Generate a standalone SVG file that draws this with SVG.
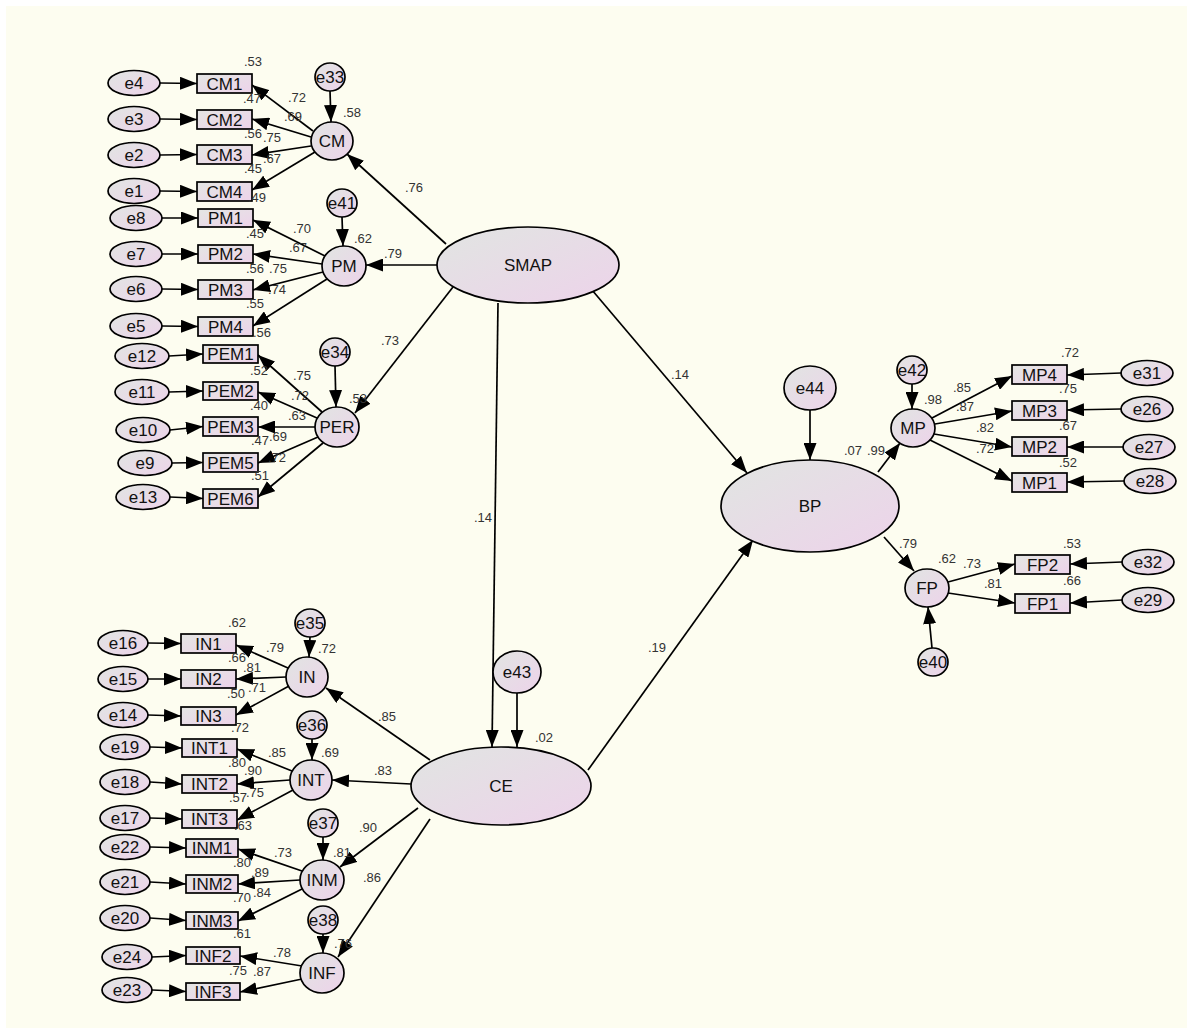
<svg xmlns="http://www.w3.org/2000/svg" width="1193" height="1034" viewBox="0 0 1193 1034">
<defs>
<linearGradient id="g" x1="0" y1="0" x2="1" y2="1">
<stop offset="0" stop-color="#e1e5e2"/>
<stop offset="1" stop-color="#edd3ea"/>
</linearGradient>
<linearGradient id="gr" x1="0" y1="0" x2="1" y2="1">
<stop offset="0" stop-color="#e4e6e3"/>
<stop offset="1" stop-color="#edd3ea"/>
</linearGradient>
<marker id="a" markerUnits="userSpaceOnUse" markerWidth="18" markerHeight="13" refX="17" refY="6.5" orient="auto">
<path d="M0,0 L17,6.5 L0,13 z" fill="#000"/>
</marker>
<style>
.n ellipse{fill:url(#g);stroke:#000;stroke-width:1.7}
.n rect{fill:url(#gr);stroke:#000;stroke-width:1.7}
.n text{font-family:"Liberation Sans",Arial,sans-serif;font-size:17px;text-anchor:middle;fill:#111}
#edges line{stroke:#000;stroke-width:1.7;marker-end:url(#a)}
#coef text{font-family:"Liberation Sans",Arial,sans-serif;font-size:13px;text-anchor:middle;fill:#333}
</style>
</defs>
<rect x="0" y="0" width="1193" height="1034" fill="#ffffff"/>
<rect x="6" y="6" width="1181" height="1022" fill="#fdfdf0"/>

<g id="edges">
<!-- CM block -->
<line x1="160" y1="83" x2="197" y2="83.5"/>
<line x1="160" y1="119" x2="197" y2="119.5"/>
<line x1="160" y1="155" x2="197" y2="154.5"/>
<line x1="160" y1="191" x2="197" y2="191.5"/>
<line x1="330" y1="91" x2="331" y2="122"/>
<line x1="313" y1="131" x2="252" y2="85"/>
<line x1="311" y1="137" x2="252" y2="119"/>
<line x1="311" y1="146" x2="252" y2="155"/>
<line x1="315" y1="152" x2="252" y2="190"/>
<line x1="446" y1="244" x2="347" y2="154"/>
<!-- PM block -->
<line x1="162" y1="218" x2="198" y2="218"/>
<line x1="162" y1="254" x2="198" y2="254"/>
<line x1="162" y1="289" x2="198" y2="289.5"/>
<line x1="162" y1="326" x2="198" y2="326.5"/>
<line x1="342" y1="217" x2="343" y2="246"/>
<line x1="325" y1="256" x2="253" y2="220"/>
<line x1="322" y1="264" x2="253" y2="254"/>
<line x1="323" y1="272" x2="253" y2="290"/>
<line x1="327" y1="279" x2="253" y2="326"/>
<line x1="437" y1="265" x2="366" y2="265"/>
<!-- PER block -->
<line x1="169" y1="356" x2="203" y2="354"/>
<line x1="169" y1="392" x2="203" y2="391"/>
<line x1="170" y1="430" x2="203" y2="426.5"/>
<line x1="172" y1="463" x2="203" y2="462.5"/>
<line x1="170" y1="497" x2="203" y2="498.5"/>
<line x1="335" y1="366" x2="336" y2="407"/>
<line x1="322" y1="412" x2="258" y2="355"/>
<line x1="317" y1="418" x2="258" y2="392"/>
<line x1="315" y1="427" x2="258" y2="427"/>
<line x1="318" y1="437" x2="258" y2="463"/>
<line x1="323" y1="443" x2="258" y2="497"/>
<line x1="453" y1="287" x2="355" y2="413"/>
<!-- SMAP -->
<line x1="498" y1="303" x2="492" y2="747"/>
<line x1="592" y1="290" x2="747" y2="473"/>
<!-- CE -->
<line x1="517" y1="693" x2="517" y2="747"/>
<line x1="430" y1="760" x2="326" y2="688"/>
<line x1="411" y1="784" x2="332" y2="780"/>
<line x1="418" y1="808" x2="340" y2="867"/>
<line x1="430" y1="819" x2="338" y2="957"/>
<line x1="588" y1="770" x2="753" y2="540"/>
<!-- BP -->
<line x1="810" y1="410" x2="810" y2="460"/>
<line x1="878" y1="472" x2="900" y2="443"/>
<line x1="884" y1="537" x2="914" y2="571"/>
<!-- MP -->
<line x1="912" y1="384" x2="912" y2="409"/>
<line x1="932" y1="418" x2="1012" y2="376"/>
<line x1="935" y1="424" x2="1012" y2="411"/>
<line x1="934" y1="434" x2="1012" y2="447"/>
<line x1="930" y1="440" x2="1012" y2="481"/>
<line x1="1121" y1="373" x2="1067" y2="375"/>
<line x1="1121" y1="409" x2="1067" y2="410"/>
<line x1="1123" y1="447" x2="1067" y2="447"/>
<line x1="1124" y1="481" x2="1067" y2="482"/>
<!-- FP -->
<line x1="948" y1="582" x2="1015" y2="564"/>
<line x1="948" y1="593" x2="1015" y2="603"/>
<line x1="1122" y1="562" x2="1070" y2="564"/>
<line x1="1122" y1="600" x2="1070" y2="603"/>
<line x1="932" y1="648" x2="928" y2="607"/>
<!-- IN -->
<line x1="148" y1="643" x2="181" y2="643.5"/>
<line x1="148" y1="679" x2="181" y2="679"/>
<line x1="148" y1="715" x2="181" y2="716"/>
<line x1="310" y1="637" x2="309" y2="657"/>
<line x1="288" y1="668" x2="236" y2="645"/>
<line x1="286" y1="677" x2="236" y2="679"/>
<line x1="289" y1="686" x2="236" y2="715"/>
<!-- INT -->
<line x1="150" y1="747" x2="182" y2="748"/>
<line x1="150" y1="782" x2="182" y2="784"/>
<line x1="150" y1="818" x2="182" y2="819"/>
<line x1="312" y1="739" x2="312" y2="760"/>
<line x1="292" y1="771" x2="237" y2="749"/>
<line x1="290" y1="780" x2="237" y2="784"/>
<line x1="293" y1="790" x2="237" y2="820"/>
<!-- INM -->
<line x1="150" y1="847" x2="186" y2="848"/>
<line x1="150" y1="882" x2="186" y2="884"/>
<line x1="150" y1="918" x2="186" y2="920.5"/>
<line x1="323" y1="837" x2="323" y2="860"/>
<line x1="302" y1="871" x2="238" y2="849"/>
<line x1="300" y1="880" x2="238" y2="884"/>
<line x1="302" y1="889" x2="238" y2="921"/>
<!-- INF -->
<line x1="152" y1="957" x2="186" y2="955.5"/>
<line x1="152" y1="990" x2="186" y2="991.5"/>
<line x1="323" y1="934" x2="323" y2="953"/>
<line x1="302" y1="966" x2="240" y2="956"/>
<line x1="302" y1="979" x2="240" y2="992"/>
</g>

<!-- Latent nodes -->
<g id="SMAP" class="n"><ellipse cx="528" cy="265" rx="91" ry="38"/><text x="528" y="271">SMAP</text></g>
<g id="CE" class="n"><ellipse cx="501" cy="786" rx="90" ry="39"/><text x="501" y="792">CE</text></g>
<g id="BP" class="n"><ellipse cx="810" cy="506" rx="89" ry="46"/><text x="810" y="512">BP</text></g>
<g id="CM" class="n"><ellipse cx="332" cy="141" rx="21" ry="19"/><text x="332" y="147">CM</text></g>
<g id="PM" class="n"><ellipse cx="344" cy="266" rx="22" ry="20"/><text x="344" y="272">PM</text></g>
<g id="PER" class="n"><ellipse cx="337" cy="427" rx="22" ry="20"/><text x="337" y="433">PER</text></g>
<g id="IN" class="n"><ellipse cx="307" cy="677" rx="21" ry="20"/><text x="307" y="683">IN</text></g>
<g id="INT" class="n"><ellipse cx="311" cy="780" rx="21" ry="20"/><text x="311" y="786">INT</text></g>
<g id="INM" class="n"><ellipse cx="322" cy="880" rx="22" ry="20"/><text x="322" y="886">INM</text></g>
<g id="INF" class="n"><ellipse cx="322" cy="973" rx="22" ry="20"/><text x="322" y="979">INF</text></g>
<g id="MP" class="n"><ellipse cx="913" cy="428" rx="22" ry="19"/><text x="913" y="434">MP</text></g>
<g id="FP" class="n"><ellipse cx="927" cy="588" rx="22" ry="19"/><text x="927" y="594">FP</text></g>

<!-- Disturbances -->
<g id="e33" class="n"><ellipse cx="330" cy="77" rx="15" ry="14"/><text x="330" y="83">e33</text></g>
<g id="e41" class="n"><ellipse cx="342" cy="203" rx="15" ry="14"/><text x="342" y="209">e41</text></g>
<g id="e34" class="n"><ellipse cx="335" cy="352" rx="15" ry="14"/><text x="335" y="358">e34</text></g>
<g id="e35" class="n"><ellipse cx="310" cy="623" rx="15" ry="14"/><text x="310" y="629">e35</text></g>
<g id="e36" class="n"><ellipse cx="312" cy="725" rx="15" ry="14"/><text x="312" y="731">e36</text></g>
<g id="e37" class="n"><ellipse cx="323" cy="823" rx="15" ry="14"/><text x="323" y="829">e37</text></g>
<g id="e38" class="n"><ellipse cx="323" cy="920" rx="15" ry="14"/><text x="323" y="926">e38</text></g>
<g id="e42" class="n"><ellipse cx="912" cy="370" rx="15" ry="14"/><text x="912" y="376">e42</text></g>
<g id="e40" class="n"><ellipse cx="933" cy="662" rx="15" ry="14"/><text x="933" y="668">e40</text></g>
<g id="e43" class="n"><ellipse cx="517" cy="672" rx="24" ry="21"/><text x="517" y="678">e43</text></g>
<g id="e44" class="n"><ellipse cx="810" cy="388" rx="26" ry="22"/><text x="810" y="394">e44</text></g>

<!-- CM indicators -->
<g id="e4" class="n"><ellipse cx="134" cy="83" rx="26" ry="12.5"/><text x="134" y="89">e4</text></g>
<g id="e3" class="n"><ellipse cx="134" cy="119" rx="26" ry="12.5"/><text x="134" y="125">e3</text></g>
<g id="e2" class="n"><ellipse cx="134" cy="155" rx="26" ry="12.5"/><text x="134" y="161">e2</text></g>
<g id="e1" class="n"><ellipse cx="134" cy="191" rx="26" ry="12.5"/><text x="134" y="197">e1</text></g>
<g id="CM1" class="n"><rect x="197" y="74" width="55" height="19"/><text x="224.5" y="89.5">CM1</text></g>
<g id="CM2" class="n"><rect x="197" y="110" width="55" height="19"/><text x="224.5" y="125.5">CM2</text></g>
<g id="CM3" class="n"><rect x="197" y="145" width="55" height="19"/><text x="224.5" y="160.5">CM3</text></g>
<g id="CM4" class="n"><rect x="197" y="182" width="55" height="19"/><text x="224.5" y="197.5">CM4</text></g>

<!-- PM indicators -->
<g id="e8" class="n"><ellipse cx="136" cy="218" rx="26" ry="12.5"/><text x="136" y="224">e8</text></g>
<g id="e7" class="n"><ellipse cx="136" cy="254" rx="26" ry="12.5"/><text x="136" y="260">e7</text></g>
<g id="e6" class="n"><ellipse cx="136" cy="289" rx="26" ry="12.5"/><text x="136" y="295">e6</text></g>
<g id="e5" class="n"><ellipse cx="136" cy="326" rx="26" ry="12.5"/><text x="136" y="332">e5</text></g>
<g id="PM1" class="n"><rect x="198" y="209" width="55" height="18"/><text x="225.5" y="224">PM1</text></g>
<g id="PM2" class="n"><rect x="198" y="245" width="55" height="18"/><text x="225.5" y="260">PM2</text></g>
<g id="PM3" class="n"><rect x="198" y="280" width="55" height="19"/><text x="225.5" y="295.5">PM3</text></g>
<g id="PM4" class="n"><rect x="198" y="317" width="55" height="19"/><text x="225.5" y="332.5">PM4</text></g>

<!-- PER indicators -->
<g id="e12" class="n"><ellipse cx="142" cy="356" rx="27" ry="12.5"/><text x="142" y="362">e12</text></g>
<g id="e11" class="n"><ellipse cx="142" cy="392" rx="27" ry="12.5"/><text x="142" y="398">e11</text></g>
<g id="e10" class="n"><ellipse cx="143" cy="430" rx="27" ry="12.5"/><text x="143" y="436">e10</text></g>
<g id="e9" class="n"><ellipse cx="145" cy="463" rx="27" ry="12.5"/><text x="145" y="469">e9</text></g>
<g id="e13" class="n"><ellipse cx="143" cy="497" rx="27" ry="12.5"/><text x="143" y="503">e13</text></g>
<g id="PEM1" class="n"><rect x="203" y="345" width="55" height="18"/><text x="230.5" y="360">PEM1</text></g>
<g id="PEM2" class="n"><rect x="203" y="382" width="55" height="18"/><text x="230.5" y="397">PEM2</text></g>
<g id="PEM3" class="n"><rect x="203" y="417" width="55" height="19"/><text x="230.5" y="432.5">PEM3</text></g>
<g id="PEM5" class="n"><rect x="203" y="453" width="55" height="19"/><text x="230.5" y="468.5">PEM5</text></g>
<g id="PEM6" class="n"><rect x="203" y="489" width="55" height="19"/><text x="230.5" y="504.5">PEM6</text></g>

<!-- MP indicators -->
<g id="MP4" class="n"><rect x="1012" y="365" width="55" height="19"/><text x="1039.5" y="380.5">MP4</text></g>
<g id="MP3" class="n"><rect x="1012" y="401" width="55" height="19"/><text x="1039.5" y="416.5">MP3</text></g>
<g id="MP2" class="n"><rect x="1012" y="437" width="55" height="19"/><text x="1039.5" y="452.5">MP2</text></g>
<g id="MP1" class="n"><rect x="1012" y="473" width="55" height="19"/><text x="1039.5" y="488.5">MP1</text></g>
<g id="e31" class="n"><ellipse cx="1147" cy="373" rx="26" ry="12.5"/><text x="1147" y="379">e31</text></g>
<g id="e26" class="n"><ellipse cx="1147" cy="409" rx="26" ry="12.5"/><text x="1147" y="415">e26</text></g>
<g id="e27" class="n"><ellipse cx="1149" cy="447" rx="26" ry="12.5"/><text x="1149" y="453">e27</text></g>
<g id="e28" class="n"><ellipse cx="1150" cy="481" rx="26" ry="12.5"/><text x="1150" y="487">e28</text></g>

<!-- FP indicators -->
<g id="FP2" class="n"><rect x="1015" y="555" width="55" height="19"/><text x="1042.5" y="570.5">FP2</text></g>
<g id="FP1" class="n"><rect x="1015" y="594" width="55" height="19"/><text x="1042.5" y="609.5">FP1</text></g>
<g id="e32" class="n"><ellipse cx="1148" cy="562" rx="26" ry="12.5"/><text x="1148" y="568">e32</text></g>
<g id="e29" class="n"><ellipse cx="1148" cy="600" rx="26" ry="12.5"/><text x="1148" y="606">e29</text></g>

<!-- IN indicators -->
<g id="e16" class="n"><ellipse cx="123" cy="643" rx="25" ry="12.5"/><text x="123" y="649">e16</text></g>
<g id="e15" class="n"><ellipse cx="123" cy="679" rx="25" ry="12.5"/><text x="123" y="685">e15</text></g>
<g id="e14" class="n"><ellipse cx="123" cy="715" rx="25" ry="12.5"/><text x="123" y="721">e14</text></g>
<g id="IN1" class="n"><rect x="181" y="634" width="55" height="19"/><text x="208.5" y="649.5">IN1</text></g>
<g id="IN2" class="n"><rect x="181" y="670" width="55" height="18"/><text x="208.5" y="685">IN2</text></g>
<g id="IN3" class="n"><rect x="181" y="707" width="55" height="18"/><text x="208.5" y="722">IN3</text></g>

<!-- INT indicators -->
<g id="e19" class="n"><ellipse cx="125" cy="747" rx="25" ry="12.5"/><text x="125" y="753">e19</text></g>
<g id="e18" class="n"><ellipse cx="125" cy="782" rx="25" ry="12.5"/><text x="125" y="788">e18</text></g>
<g id="e17" class="n"><ellipse cx="125" cy="818" rx="25" ry="12.5"/><text x="125" y="824">e17</text></g>
<g id="INT1" class="n"><rect x="182" y="739" width="55" height="18"/><text x="209.5" y="754">INT1</text></g>
<g id="INT2" class="n"><rect x="182" y="775" width="55" height="18"/><text x="209.5" y="790">INT2</text></g>
<g id="INT3" class="n"><rect x="182" y="810" width="55" height="18"/><text x="209.5" y="825">INT3</text></g>

<!-- INM indicators -->
<g id="e22" class="n"><ellipse cx="125" cy="847" rx="25" ry="12.5"/><text x="125" y="853">e22</text></g>
<g id="e21" class="n"><ellipse cx="125" cy="882" rx="25" ry="12.5"/><text x="125" y="888">e21</text></g>
<g id="e20" class="n"><ellipse cx="125" cy="918" rx="25" ry="12.5"/><text x="125" y="924">e20</text></g>
<g id="INM1" class="n"><rect x="186" y="839" width="52" height="18"/><text x="212" y="854">INM1</text></g>
<g id="INM2" class="n"><rect x="186" y="875" width="52" height="18"/><text x="212" y="890">INM2</text></g>
<g id="INM3" class="n"><rect x="186" y="912" width="52" height="17"/><text x="212" y="926.5">INM3</text></g>

<!-- INF indicators -->
<g id="e24" class="n"><ellipse cx="127" cy="957" rx="25" ry="12.5"/><text x="127" y="963">e24</text></g>
<g id="e23" class="n"><ellipse cx="127" cy="990" rx="25" ry="12.5"/><text x="127" y="996">e23</text></g>
<g id="INF2" class="n"><rect x="186" y="947" width="54" height="17"/><text x="213" y="961.5">INF2</text></g>
<g id="INF3" class="n"><rect x="186" y="983" width="54" height="17"/><text x="213" y="997.5">INF3</text></g>

<g id="coef">
<text x="253" y="65.5">.53</text><text x="297" y="101.5">.72</text><text x="252" y="102.5">.47</text><text x="293" y="120.5">.69</text>
<text x="352" y="116.5">.58</text><text x="253" y="137.5">.56</text><text x="272" y="141.5">.75</text><text x="272" y="162.5">.67</text>
<text x="253" y="172.5">.45</text><text x="257" y="201.5">.49</text><text x="414" y="191.5">.76</text>
<text x="302" y="232.5">.70</text><text x="255" y="237.5">.45</text><text x="298" y="251.5">.67</text><text x="363" y="242.5">.62</text>
<text x="255" y="272.5">.56</text><text x="278" y="272.5">.75</text><text x="277" y="293.5">.74</text><text x="255" y="307.5">.55</text>
<text x="262" y="336.5">.56</text><text x="393" y="257.5">.79</text>
<text x="302" y="379.5">.75</text><text x="259" y="374.5">.52</text><text x="300" y="399.5">.72</text><text x="259" y="409.5">.40</text>
<text x="297" y="419.5">.63</text><text x="358" y="402.5">.53</text><text x="390" y="344.5">.73</text><text x="278" y="440.5">.69</text>
<text x="260" y="444.5">.47</text><text x="277" y="461.5">.72</text><text x="260" y="479.5">.51</text>
<text x="680" y="378.5">.14</text><text x="483" y="521.5">.14</text><text x="657" y="651.5">.19</text><text x="544" y="741.5">.02</text>
<text x="853" y="454.5">.07</text><text x="876" y="454.5">.99</text><text x="933" y="403.5">.98</text><text x="1070" y="356.5">.72</text>
<text x="962" y="391.5">.85</text><text x="1068" y="392.5">.75</text><text x="965" y="410.5">.87</text><text x="985" y="431.5">.82</text>
<text x="1068" y="429.5">.67</text><text x="985" y="452.5">.72</text><text x="1068" y="466.5">.52</text>
<text x="908" y="547.5">.79</text><text x="947" y="562.5">.62</text><text x="972" y="567.5">.73</text><text x="993" y="587.5">.81</text>
<text x="1072" y="547.5">.53</text><text x="1072" y="584.5">.66</text>
<text x="237" y="626.5">.62</text><text x="275" y="651.5">.79</text><text x="327" y="652.5">.72</text><text x="237" y="661.5">.66</text>
<text x="252" y="671.5">.81</text><text x="236" y="697.5">.50</text><text x="257" y="691.5">.71</text><text x="240" y="731.5">.72</text>
<text x="387" y="720.5">.85</text>
<text x="277" y="756.5">.85</text><text x="330" y="756.5">.69</text><text x="237" y="766.5">.80</text><text x="253" y="774.5">.90</text>
<text x="383" y="774.5">.83</text><text x="238" y="801.5">.57</text><text x="255" y="796.5">.75</text><text x="243" y="829.5">.63</text>
<text x="283" y="856.5">.73</text><text x="342" y="856.5">.81</text><text x="242" y="866.5">.80</text><text x="260" y="876.5">.89</text>
<text x="372" y="881.5">.86</text><text x="368" y="831.5">.90</text><text x="242" y="901.5">.70</text><text x="262" y="896.5">.84</text>
<text x="242" y="937.5">.61</text>
<text x="282" y="956.5">.78</text><text x="343" y="947.5">.76</text><text x="238" y="974.5">.75</text><text x="262" y="975.5">.87</text>
</g>
</svg>
